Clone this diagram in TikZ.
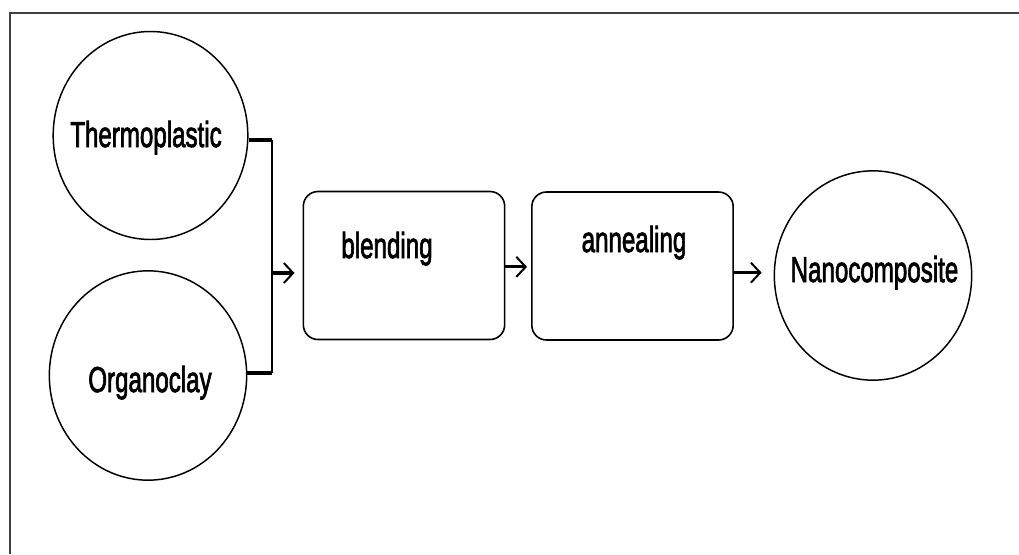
\documentclass[tikz,border=0pt]{standalone}
\usepackage{fontspec}
\setmainfont{Liberation Sans}
\newfontfamily\lblfont{Liberation Sans}[FakeBold=2.5]
\usetikzlibrary{shapes.geometric,arrows.meta}

% condensed label text
\newcommand{\lbltext}[1]{\scalebox{0.67}[1]{\lblfont\fontsize{27}{30}\selectfont #1}}

\tikzset{
  frameline/.style={draw=black!75, line width=1.5pt},
  blob/.style={ellipse, draw, line width=1.1pt, inner sep=0pt},
  stepbox/.style={rectangle, draw, rounded corners=11pt, line width=1.2pt,
    inner sep=0pt, minimum width=151pt, minimum height=111pt},
  lbl/.style={inner sep=0pt, anchor=base},
  wire/.style={line width=1.3pt},
  stub/.style={line width=2.4pt},
  arr/.style={line width=2.4pt, -{Straight Barb[length=7pt, width=15pt, line width=1.5pt]}},
}

\begin{document}
\begin{tikzpicture}[x=0.75pt, y=-0.75pt]
  \useasboundingbox (0,0) rectangle (1019,554);

  % page frame (top and left edges only)
  \draw[frameline] (1019,13) -- (10,13) -- (10,554);

  % inputs
  \node[blob, minimum width=146pt, minimum height=156pt] (thermo) at (150.5,135.5) {};
  \node[lbl] (thermotxt) at (146,147) {\lbltext{Thermoplastic}};
  \node[blob, minimum width=148pt, minimum height=157pt] (organo) at (148,375.5) {};
  \node[lbl] (organotxt) at (150,392) {\lbltext{Organoclay}};

  % process steps
  \node[stepbox] (blend) at (404,265.5) {};
  \node[lbl] (blendtxt) at (387,258) {\lbltext{blending}};
  \node[stepbox] (anneal) at (632.5,266) {};
  \node[lbl] (annealtxt) at (634,252) {\lbltext{annealing}};

  % product
  \node[blob, minimum width=148pt, minimum height=157pt] (nano) at (873,275.5) {};
  \node[lbl] (nanotxt) at (874.5,282) {\lbltext{Nanocomposite}};

  % merge of the two inputs
  \coordinate (join) at (272,273);
  \coordinate (jtop) at (272,140);
  \coordinate (jbot) at (272,373);
  \draw[stub] (thermo.east |- jtop) -- (jtop);
  \draw[stub] (organo.east |- jbot) -- (jbot);
  \draw[wire] (jtop) -- (jbot);

  % flow arrows
  \draw[arr, shorten >=6pt] (join) -- (join -| blend.west);
  \draw[arr, shorten >=3pt] ([yshift=-1pt]blend.east) -- ([yshift=-1pt]blend.east -| anneal.west);
  \draw[arr, shorten >=9pt] ([yshift=-5pt]anneal.east) -- ([yshift=-5pt]anneal.east -| nano.west);
\end{tikzpicture}
\end{document}
